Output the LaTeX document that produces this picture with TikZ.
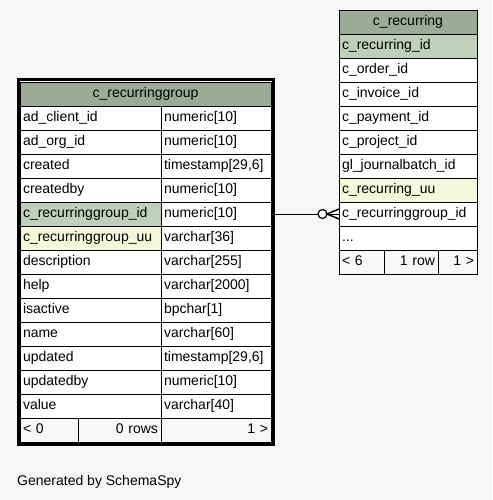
\documentclass[tikz,border=0pt]{standalone}
\usepackage{fontspec}
\setmainfont{Liberation Sans}
\usepackage{xcolor}
\usetikzlibrary{positioning}

\definecolor{bggray}{HTML}{F7F7F7}
\definecolor{headgreen}{HTML}{9BAB96}
\definecolor{keygreen}{HTML}{BED1B8}
\definecolor{uuyellow}{HTML}{F4F7DA}
\newcommand\morecols{...}

\begin{document}
\begin{tikzpicture}[x=1pt, y=-1pt,
    font=\fontsize{14}{16}\selectfont,
    cell/.style={draw=black, fill=white, anchor=north west, outer sep=0pt,
        inner xsep=3pt, inner ysep=0pt, minimum height=24pt,
        text height=10pt, text depth=3pt},
    headcell/.style={cell, fill=headgreen, text width=#1, align=center},
    namecell/.style={cell, text width=#1, align=left},
    footcell/.style={cell, fill=bggray, text width=#1, align=right}]

    % Sheet background, fixes the size of the page too
    \useasboundingbox (0,0) rectangle (492,500);
    \fill[bggray] (0,0) rectangle (492,500);

    % Table c_recurringgroup: heading, one row per column, then the footer
    \node[headcell=245pt] (gh) at (20,82) {c\_recurringgroup};
    \foreach \cname/\ctype/\ccol [count=\i] in {
        ad\_client\_id/numeric[10]/white,
        ad\_org\_id/numeric[10]/white,
        created/{timestamp[29,6]}/white,
        createdby/numeric[10]/white,
        c\_recurringgroup\_id/numeric[10]/keygreen,
        c\_recurringgroup\_uu/varchar[36]/uuyellow,
        description/varchar[255]/white,
        help/varchar[2000]/white,
        isactive/bpchar[1]/white,
        name/varchar[60]/white,
        updated/{timestamp[29,6]}/white,
        updatedby/numeric[10]/white,
        value/varchar[40]/white}{
        \node[namecell=135pt, fill=\ccol] (gn\i) at (20,82+24*\i) {\cname};
        \node[namecell=104pt] (gt\i) at (161,82+24*\i) {\ctype};
    }
    \node[footcell=52pt, align=left] (gf1) at (20,418) {< 0};
    \node[footcell=77pt] (gf2) at (78,418) {0 rows};
    \node[footcell=104pt] (gf3) at (161,418) {1 >};

    % Heavy frame round the table in focus
    \draw[line width=3pt] ([shift={(-2,-2)}]gh.north west) rectangle ([shift={(2,2)}]gf3.south east);

    % Table c_recurring, only its name column is shown
    \node[headcell=132pt] (rh) at (339,10) {c\_recurring};
    \foreach \cname/\ccol [count=\i] in {
        c\_recurring\_id/keygreen,
        c\_order\_id/white,
        c\_invoice\_id/white,
        c\_payment\_id/white,
        c\_project\_id/white,
        gl\_journalbatch\_id/white,
        c\_recurring\_uu/uuyellow,
        c\_recurringgroup\_id/white,
        \morecols/white}
        \node[namecell=132pt, fill=\ccol] (rn\i) at (339,10+24*\i) {\cname};
    \node[footcell=39pt, align=left] (rf1) at (339,250) {< 6};
    \node[footcell=48pt] (rf2) at (384,250) {1 row};
    \node[footcell=33pt] (rf3) at (438,250) {1 >};

    % Foreign key: zero or one group, many recurring rows
    \node[draw, circle, fill=white, line width=1.2pt, minimum size=9pt, inner sep=0pt,
        outer sep=0pt, left=12pt of rn8] (opt) {};
    \draw (gt5.east) -- (opt.west);
    \draw (opt.east) -- (rn8.west);
    \draw[line width=1.5pt] ([yshift=5pt]rn8.west) -- (opt.east) -- ([yshift=-5pt]rn8.west);

    % Credit line
    \node[anchor=base west, inner sep=0pt] (credit) at (17,485) {Generated by SchemaSpy};
\end{tikzpicture}
\end{document}
